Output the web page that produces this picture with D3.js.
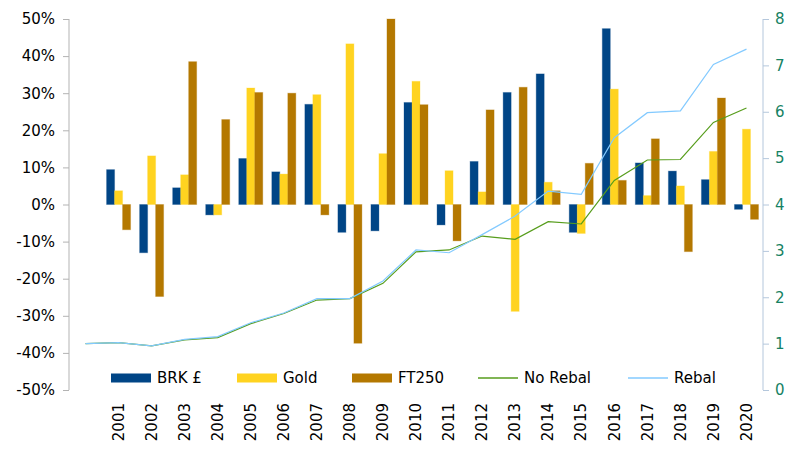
<!DOCTYPE html>
<html>
<head>
<meta charset="utf-8">
<script src="https://cdn.jsdelivr.net/npm/d3@7"></script>
<style>
  body { margin: 0; background: #fff; }
  svg { font-family: "DejaVu Sans", sans-serif; }
</style>
</head>
<body>
<div id="chart"></div>
<script>
// years on the category axis (2000 is the starting point of the lines, no bars)
var years = ["2000","2001","2002","2003","2004","2005","2006","2007","2008","2009","2010",
             "2011","2012","2013","2014","2015","2016","2017","2018","2019","2020"];
var barYears = years.slice(1);

// yearly returns in %
var brk   = [9.4, -13.0, 4.5, -2.8, 12.4, 8.8, 27.0, -7.5, -7.1, 27.5, -5.5, 11.6, 30.2, 35.2, -7.5, 47.4, 11.2, 9.0, 6.7, -1.3];
var gold  = [3.7, 13.1, 8.0, -2.8, 31.4, 8.2, 29.6, 43.3, 13.7, 33.2, 9.1, 3.4, -28.8, 6.0, -7.8, 31.1, 2.4, 5.0, 14.3, 20.3];
var ft250 = [-6.8, -24.8, 38.5, 22.9, 30.2, 30.0, -2.8, -37.4, 50.0, 26.9, -9.8, 25.5, 31.6, 3.7, 11.1, 6.5, 17.7, -12.7, 28.7, -4.0];

// portfolio growth (right axis)
var noRebal = [1.00, 1.02, 0.95, 1.08, 1.13, 1.43, 1.65, 1.94, 1.97, 2.30, 2.98, 3.02, 3.32, 3.25, 3.63, 3.58, 4.52, 4.96, 4.97, 5.77, 6.08];
var rebal   = [1.00, 1.02, 0.95, 1.09, 1.15, 1.45, 1.66, 1.97, 1.97, 2.35, 3.02, 2.96, 3.35, 3.75, 4.29, 4.22, 5.44, 5.98, 6.02, 7.02, 7.35];

var leftTicks = [-50, -40, -30, -20, -10, 0, 10, 20, 30, 40, 50];
var rightTicks = [0, 1, 2, 3, 4, 5, 6, 7, 8];

var barSeries = [
  {name: "BRK £", values: brk, color: "#004586"},
  {name: "Gold", values: gold, color: "#ffd320"},
  {name: "FT250", values: ft250, color: "#b47800"}
];
var lineSeries = [
  {name: "No Rebal", values: noRebal, color: "#579d1c"},
  {name: "Rebal", values: rebal, color: "#83caff"}
];

var width = 800, height = 450;
var plotLeft = 69, plotRight = 763, plotTop = 19, plotBottom = 390;

var svg = d3.select("#chart").append("svg")
  .attr("width", width)
  .attr("height", height);

var x = d3.scaleBand().domain(years).range([plotLeft, plotRight]);
var xInner = d3.scaleBand().domain(barSeries.map(function(s) { return s.name; })).range([-12, 12]);
var yL = d3.scaleLinear().domain([-50, 50]).range([plotBottom, plotTop]);
var yR = d3.scaleLinear().domain([0, 8]).range([plotBottom, plotTop]);

// bars
var groups = svg.selectAll(".series")
  .data(barSeries)
  .enter().append("g")
  .attr("class", "series");

groups.selectAll("rect")
  .data(function(s) {
    return s.values.map(function(v, i) { return {name: s.name, year: barYears[i], v: v, color: s.color}; });
  })
  .enter().append("rect")
  .attr("x", function(d) { return x(d.year) + x.bandwidth() / 2 + xInner(d.name); })
  .attr("width", xInner.bandwidth())
  .attr("y", function(d) { return yL(Math.max(0, d.v)); })
  .attr("height", function(d) { return Math.abs(yL(d.v) - yL(0)); })
  .style("fill", function(d) { return d.color; })
  .style("stroke", function(d) { return d.color; })
  .style("stroke-opacity", 0.3)
  .style("stroke-width", 1);

// lines
var line = d3.line()
  .x(function(d, i) { return x(years[i]) + x.bandwidth() / 2; })
  .y(function(d) { return yR(d); });

svg.selectAll(".line")
  .data(lineSeries)
  .enter().append("path")
  .attr("class", "line")
  .attr("d", function(s) { return line(s.values); })
  .style("fill", "none")
  .style("stroke", function(s) { return s.color; })
  .style("stroke-width", 1.2);

// left axis
var axL = svg.append("g")
  .attr("transform", "translate(" + plotLeft + ",0)")
  .call(d3.axisLeft(yL).tickValues(leftTicks).tickSize(6).tickPadding(8)
    .tickFormat(function(d) { return d + "%"; }));
axL.select(".domain").attr("stroke", "#b3b3b3").attr("d", "M0," + plotTop + "V" + plotBottom);
axL.selectAll(".tick line").attr("stroke", "#b3b3b3");
axL.selectAll("text").style("font-size", "15px").style("fill", "#000")
  .style("font-family", "DejaVu Sans");

// right axis
var axR = svg.append("g")
  .attr("transform", "translate(" + plotRight + ",0)")
  .call(d3.axisRight(yR).tickValues(rightTicks).tickSize(6).tickPadding(6));
axR.select(".domain").attr("stroke", "#b4c7dc").attr("d", "M0," + plotTop + "V" + plotBottom);
axR.selectAll(".tick line").attr("stroke", "#b4c7dc");
axR.selectAll("text").style("font-size", "15px").style("fill", "#168263")
  .style("font-family", "DejaVu Sans");

// category labels, rotated
var axX = svg.append("g")
  .attr("transform", "translate(0," + plotBottom + ")")
  .call(d3.axisBottom(x).tickSize(0).tickFormat(function(d) { return d === "2000" ? "" : d; }));
axX.select(".domain").remove();
axX.selectAll("text")
  .style("font-size", "15px").style("fill", "#000").style("font-family", "DejaVu Sans")
  .attr("text-anchor", "end")
  .attr("transform", "translate(0,13) rotate(-90)")
  .attr("x", 0).attr("y", 0).attr("dy", "0.35em");

// legend
var legendItems = [
  {name: "BRK £", color: "#004586", type: "bar", x: 111},
  {name: "Gold", color: "#ffd320", type: "bar", x: 237},
  {name: "FT250", color: "#b47800", type: "bar", x: 352},
  {name: "No Rebal", color: "#579d1c", type: "line", x: 478},
  {name: "Rebal", color: "#83caff", type: "line", x: 628}
];
var legY = 378;
var leg = svg.selectAll(".legend")
  .data(legendItems)
  .enter().append("g")
  .attr("class", "legend")
  .attr("transform", function(d) { return "translate(" + d.x + "," + legY + ")"; });

leg.filter(function(d) { return d.type === "bar"; })
  .append("rect")
  .attr("x", 0).attr("y", -4.5).attr("width", 40).attr("height", 9)
  .style("fill", function(d) { return d.color; });
leg.filter(function(d) { return d.type === "line"; })
  .append("line")
  .attr("x1", 0).attr("x2", 40).attr("y1", 0).attr("y2", 0)
  .style("stroke", function(d) { return d.color; })
  .style("stroke-width", 1.5);
leg.append("text")
  .attr("x", 46).attr("y", 0).attr("dy", "0.35em")
  .style("font-size", "15px")
  .text(function(d) { return d.name; });
</script>
</body>
</html>
